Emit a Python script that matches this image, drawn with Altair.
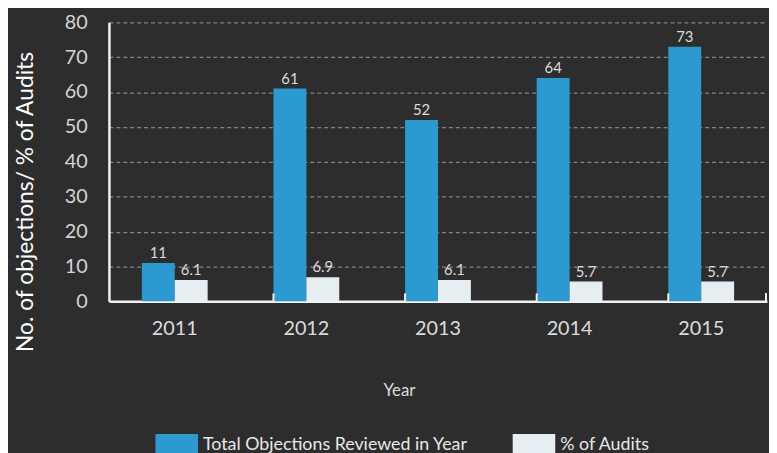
import altair as alt
import pandas as pd

years = ["2011", "2012", "2013", "2014", "2015"]
total_objections = [11, 61, 52, 64, 73]
pct_audits = [6.1, 6.9, 6.1, 5.7, 5.7]
series_names = ["Total Objections Reviewed in Year", "% of Audits"]
series_colors = ["#2A9AD0", "#E6EEF2"]
y_ticks = [0, 10, 20, 30, 40, 50, 60, 70, 80]

rows = []
for i, yr in enumerate(years):
    rows.append({"year": yr, "series": series_names[0], "value": total_objections[i],
                 "label": f"{total_objections[i]}"})
    rows.append({"year": yr, "series": series_names[1], "value": pct_audits[i],
                 "label": f"{pct_audits[i]:.1f}"})
df = pd.DataFrame(rows)

FONT = "Lato"
W, H = 665, 282

xscale = alt.Scale(domain=years, paddingInner=0.5, paddingOuter=0.25)
color = alt.Color(
    "series:N",
    scale=alt.Scale(domain=series_names, range=series_colors),
    sort=series_names,
    legend=alt.Legend(
        orient="none", legendX=47, legendY=405, direction="horizontal",
        title=None, symbolType="M-1,-0.5L1,-0.5L1,0.5L-1,0.5Z", symbolSize=1849,
        symbolStrokeWidth=0, symbolOpacity=1, labelFont=FONT, labelFontSize=18,
        labelColor="#e8e8e8", labelOffset=5, columnPadding=45, padding=0,
        labelBaseline="middle", labelLimit=500,
    ),
)

yaxis = alt.Axis(values=y_ticks, title="No. of objections/ % of Audits",
                 labelOverlap=False, ticks=False, tickSize=0, labelPadding=22,
                 labelFont=FONT, labelFontSize=20, labelColor="#d4d4d4",
                 titleFont=FONT, titleFontSize=23, titleFontWeight="normal",
                 titleColor="#ffffff", titleAngle=-90, titleX=-84, titleY=181,
                 titleAlign="center", titleBaseline="middle",
                 grid=True, gridColor="#9a9a9a", gridDash=[4, 3],
                 gridWidth=1.2, gridOpacity=0.8,
                 domainColor="#f2f2f2", domainWidth=2.5)

base = alt.Chart(df).encode(
    x=alt.X("year:N", scale=xscale, sort=years,
            axis=alt.Axis(title="Year", labelAngle=0, ticks=False, tickSize=0,
                          labelPadding=17, labelFont=FONT, labelFontSize=20,
                          labelColor="#dcdcdc", titleFont=FONT, titleFontSize=17,
                          titleFontWeight="normal", titleColor="#dcdcdc",
                          titleX=293, titleY=90, titleBaseline="middle",
                          domainColor="#f2f2f2", domainWidth=2.5, grid=False)),
    xOffset=alt.XOffset("series:N", sort=series_names,
                        scale=alt.Scale(domain=series_names, paddingInner=0, paddingOuter=0)),
    y=alt.Y("value:Q", scale=alt.Scale(domain=[0, 80], nice=False), axis=yaxis),
)

bars = base.mark_bar().encode(color=color)

texts = base.mark_text(dy=-10, font=FONT, fontSize=15, color="#dcdcdc").encode(
    text="label:N",
)

tick_df = pd.DataFrame({"year": years[1:]})
ticks = alt.Chart(tick_df).mark_rule(color="#f2f2f2", strokeWidth=2).encode(
    x=alt.X("year:N", scale=xscale, sort=years, bandPosition=0),
    y=alt.value(H - 8), y2=alt.value(H),
)
end_tick = alt.Chart(tick_df).mark_rule(color="#f2f2f2", strokeWidth=2).encode(
    x=alt.value(W - 1), y=alt.value(H - 8), y2=alt.value(H),
)

chart = alt.layer(bars, texts, ticks, end_tick).properties(
    width=W, height=H,
    background="#2d2d2d",
    padding={"left": 102, "top": 12, "right": 2, "bottom": 170},
    autosize=alt.AutoSizeParams(type="none"),
).configure_view(stroke=None)

chart.save("out.html", embed_options={"renderer": "svg", "actions": False})
